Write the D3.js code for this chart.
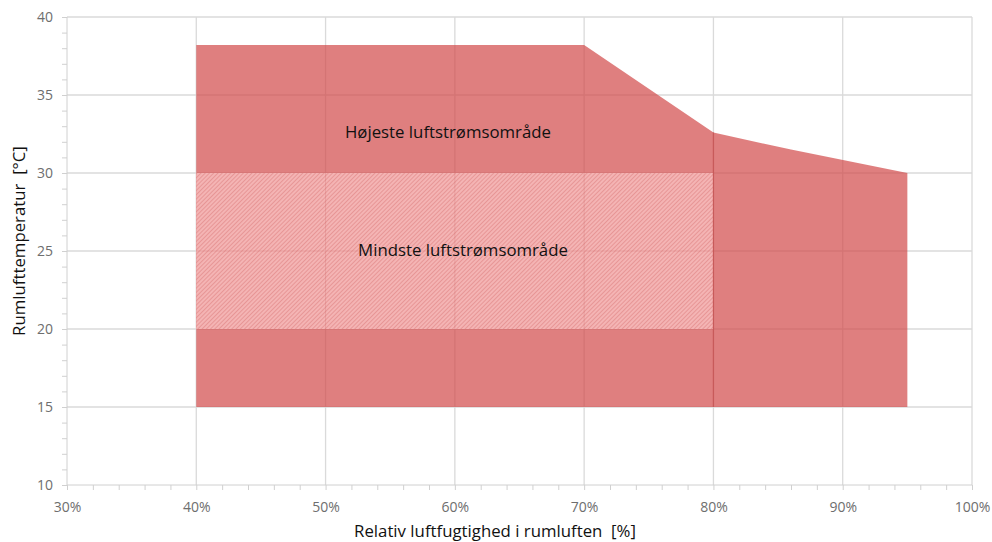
<!DOCTYPE html>
<meta charset="utf-8">
<style>
body { margin: 0; background: #fff; }
.tick text { font-family: "Open Sans", sans-serif; font-size: 14px; fill: #6e6e6e; }
.axis path, .axis line { stroke: #d0d0d0; }
.grid line { stroke: #dadada; stroke-width: 1.3px; }
.title { font-family: "Open Sans", sans-serif; font-size: 16.8px; fill: #111; white-space: pre; }
.zone-label { font-family: "Open Sans", sans-serif; font-size: 16.8px; fill: #111; }
</style>
<svg width="992" height="542"></svg>
<script src="https://cdn.jsdelivr.net/npm/d3@7"></script>
<script>

// outer envelope: highest airflow range (humidity %, temperature °C)
var highHumidity = [40, 70, 80, 86, 95, 95, 40];
var highTemp     = [38.2, 38.2, 32.6, 31.5, 30, 15, 15];

// inner rectangle: minimum airflow range
var lowHumidity = [40, 80];
var lowTemp     = [20, 30];

var xTicks = [30, 40, 50, 60, 70, 80, 90, 100];
var yTicks = [10, 15, 20, 25, 30, 35, 40];

var svg = d3.select("svg");
var margin = {left: 67, right: 20, top: 17, bottom: 57};
var W = 992, H = 542;

var x = d3.scaleLinear().domain([30, 100]).range([margin.left, W - margin.right]);
var y = d3.scaleLinear().domain([10, 40]).range([H - margin.bottom, margin.top]);

// hatch pattern
var defs = svg.append("defs");
var pat = defs.append("pattern")
    .attr("id", "hatch")
    .attr("patternUnits", "userSpaceOnUse")
    .attr("width", 3).attr("height", 3)
    .attr("patternTransform", "rotate(-45)");
pat.append("rect").attr("width", 3).attr("height", 3).attr("fill", "#f4b4b4");
pat.append("line").attr("x1", 0).attr("y1", 0).attr("x2", 3).attr("y2", 0)
    .attr("stroke", "#e38c8c").attr("stroke-width", 1.5);

// grid
var grid = svg.append("g").attr("class", "grid");
grid.selectAll(".gx").data(xTicks.slice(1)).enter().append("line")
    .attr("x1", d => x(d)).attr("x2", d => x(d))
    .attr("y1", y(10)).attr("y2", y(40));
grid.selectAll(".gy").data(yTicks.slice(1)).enter().append("line")
    .attr("x1", x(30)).attr("x2", x(100))
    .attr("y1", d => y(d)).attr("y2", d => y(d));

// outer area
var pts = highHumidity.map((h, i) => [x(h), y(highTemp[i])]);
svg.append("path")
    .attr("d", d3.line()(pts) + "Z")
    .attr("fill", "rgb(210,72,72)")
    .attr("fill-opacity", 0.7);

// inner hatched rectangle
svg.append("rect")
    .attr("x", x(lowHumidity[0]))
    .attr("y", y(lowTemp[1]))
    .attr("width", x(lowHumidity[1]) - x(lowHumidity[0]))
    .attr("height", y(lowTemp[0]) - y(lowTemp[1]))
    .attr("fill", "url(#hatch)");

// faint grid through hatch
var g2 = svg.append("g").attr("opacity", 0.2);
g2.selectAll("line.v").data(xTicks.filter(d => d > lowHumidity[0] && d < lowHumidity[1])).enter().append("line")
    .attr("x1", d => x(d)).attr("x2", d => x(d))
    .attr("y1", y(lowTemp[0])).attr("y2", y(lowTemp[1]))
    .attr("stroke", "#c05050");
g2.selectAll("line.h").data(yTicks.filter(d => d > lowTemp[0] && d < lowTemp[1])).enter().append("line")
    .attr("x1", x(lowHumidity[0])).attr("x2", x(lowHumidity[1]))
    .attr("y1", d => y(d)).attr("y2", d => y(d))
    .attr("stroke", "#c05050");
svg.append("line")
    .attr("x1", x(80)).attr("x2", x(80))
    .attr("y1", y(15)).attr("y2", y(32.6))
    .attr("stroke", "#c85a5a").attr("stroke-width", 1.2);

// axes
var xAxis = svg.append("g").attr("class", "axis")
    .attr("transform", "translate(0," + y(10) + ")")
    .call(d3.axisBottom(x).tickValues(d3.range(30, 101, 2)).tickSize(5)
        .tickFormat(d => d % 10 === 0 ? d + "%" : ""));
xAxis.select(".domain").attr("d", "M" + x(30) + ",0H" + x(100));
xAxis.selectAll(".tick text").attr("dy", "1.35em");

var yAxis = svg.append("g").attr("class", "axis")
    .attr("transform", "translate(" + x(30) + ",0)")
    .call(d3.axisLeft(y).tickValues(d3.range(10, 41, 1)).tickSize(5)
        .tickFormat(d => d % 5 === 0 ? d : ""));
yAxis.select(".domain").attr("d", "M0," + y(10) + "V" + y(40));
yAxis.selectAll(".tick text").attr("x", -14);

// zone labels
svg.append("text").attr("class", "zone-label")
    .attr("x", 448).attr("y", 138).attr("text-anchor", "middle")
    .text("Højeste luftstrømsområde");
svg.append("text").attr("class", "zone-label")
    .attr("x", 463).attr("y", 256).attr("text-anchor", "middle")
    .text("Mindste luftstrømsområde");

// axis titles
svg.append("text").attr("class", "title")
    .attr("x", 495).attr("y", 537).attr("text-anchor", "middle")
    .text("Relativ luftfugtighed i rumluften  [%]");
svg.append("text").attr("class", "title")
    .attr("transform", "translate(25,241) rotate(-90)")
    .attr("text-anchor", "middle")
    .text("Rumlufttemperatur  [°C]");

</script>
